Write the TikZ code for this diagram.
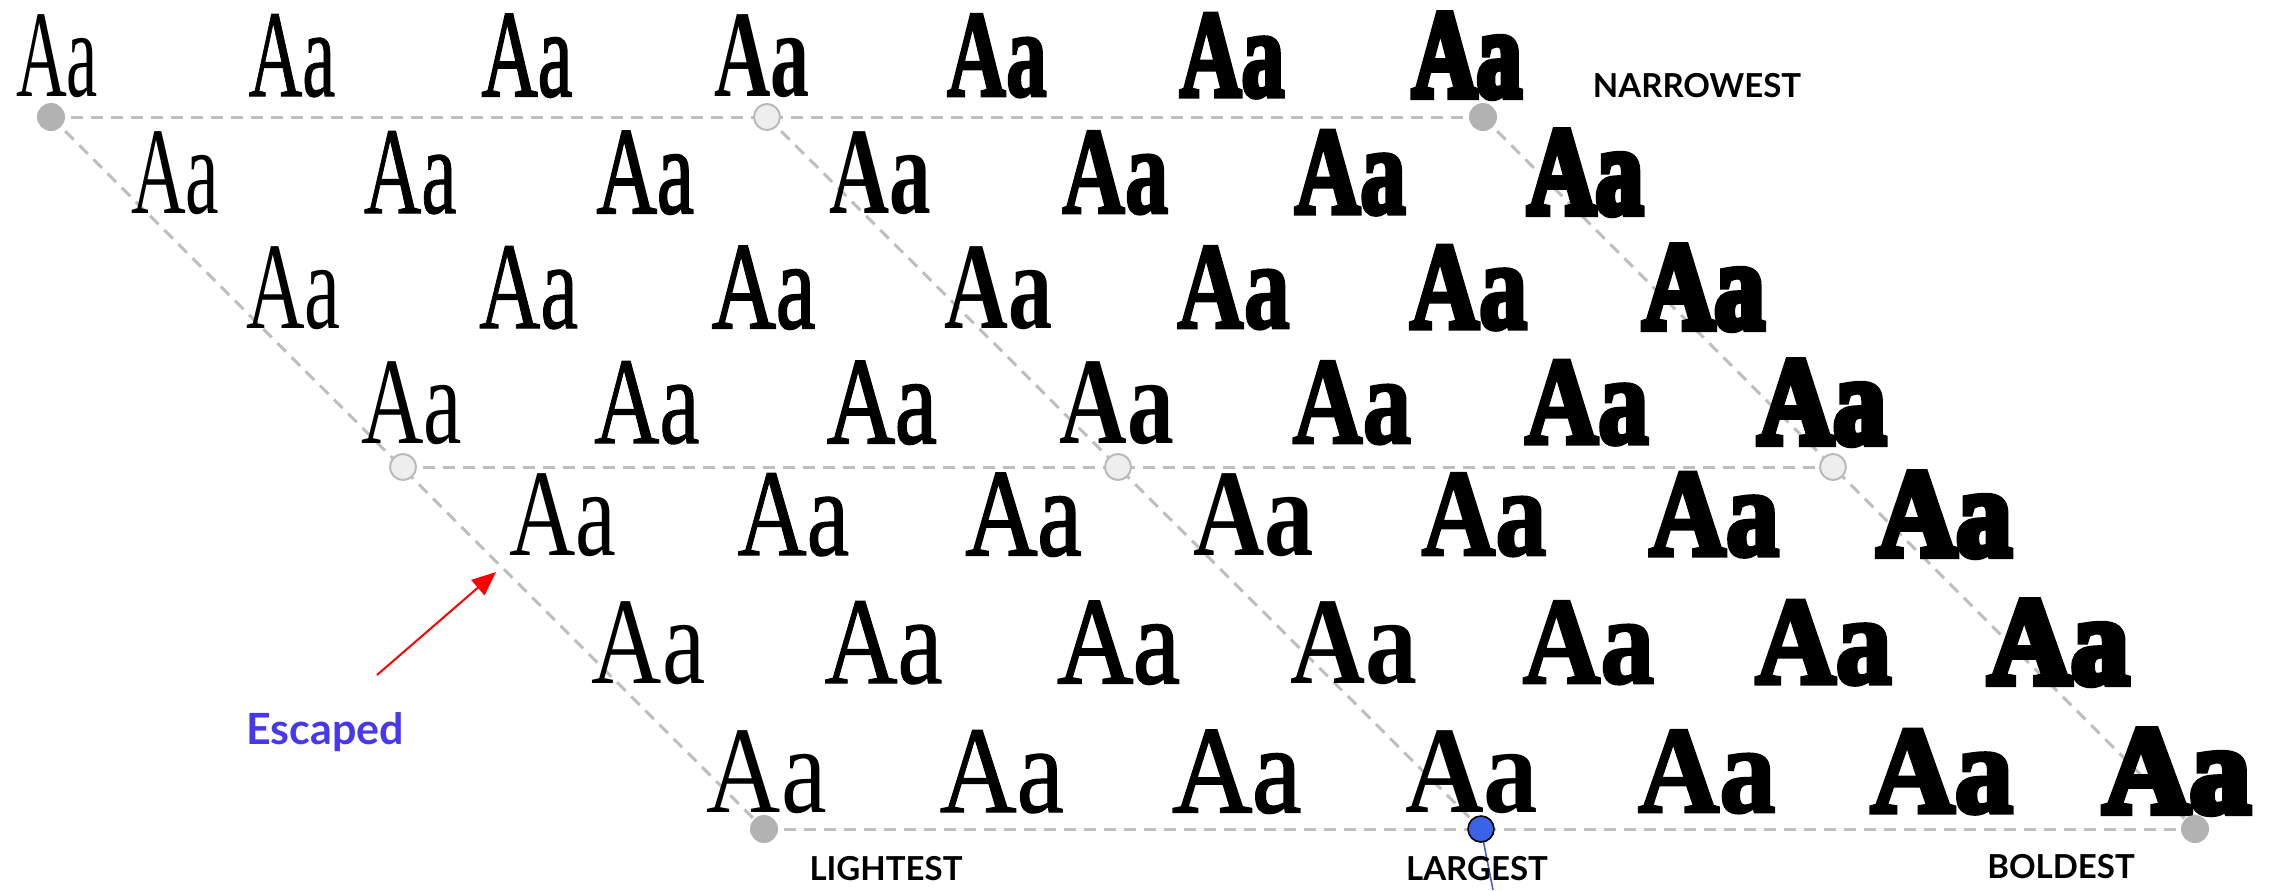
\documentclass[tikz,border=0pt]{standalone}
\usepackage{fontspec}
\usepackage{graphicx}
\usetikzlibrary{arrows.meta}
\setmainfont{Liberation Serif}
\newfontfamily\lblfont{Lato}
% weight steps, light to black
\newfontfamily\wtA{Liberation Serif}
\newfontfamily\wtB{Liberation Serif}[FakeBold=0.8]
\newfontfamily\wtC{Liberation Serif}[FakeBold=1.8]
\newfontfamily\wtD{Liberation Serif Bold}
\newfontfamily\wtE{Liberation Serif Bold}[FakeBold=2.2]
\newfontfamily\wtF{Liberation Serif Bold}[FakeBold=4.2]
\newfontfamily\wtG{Liberation Serif Bold}[FakeBold=6.5]
\newcommand{\wtfont}[1]{\ifcase#1\wtA\or\wtB\or\wtC\or\wtD\or\wtE\or\wtF\or\wtG\fi}
\definecolor{dashgray}{RGB}{190,190,190}
\definecolor{dotgray}{RGB}{178,178,178}
\definecolor{ringgray}{RGB}{186,186,186}
\definecolor{ringfill}{RGB}{238,238,238}
\definecolor{markblue}{RGB}{58,100,232}
\definecolor{escblue}{RGB}{70,55,240}

\begin{document}
\begin{tikzpicture}[x=0.5pt,y=-0.5pt,
  glyph/.style={anchor=base,inner sep=0pt,font=\fontsize{62}{62}\selectfont},
  axisline/.style={draw=dashgray,line width=1.5pt,dash pattern=on 6pt off 4pt},
  cornerdot/.style={circle,fill=dotgray,minimum size=14pt,inner sep=0pt},
  middot/.style={circle,fill=ringfill,draw=ringgray,line width=1pt,minimum size=13pt,inner sep=0pt},
  tag/.style={anchor=base,inner sep=0pt,font=\lblfont\bfseries\fontsize{16.5}{16.5}\selectfont}]
\useasboundingbox (0,0) rectangle (2272,890);

% corners of the design space
\coordinate (c-0-0) at (51,117);
\coordinate (c-0-3) at (767,117);
\coordinate (c-0-6) at (1483,117);
\coordinate (c-3-0) at (403,467);
\coordinate (c-3-3) at (1118,467);
\coordinate (c-3-6) at (1833,467);
\coordinate (c-6-0) at (764,829);
\coordinate (c-6-3) at (1481,829);
\coordinate (c-6-6) at (2195,829);
\coordinate (bluefoot) at (1493,890);

\draw[axisline] (c-0-0) -- (c-0-6);
\draw[axisline] (c-3-0) -- (c-3-6);
\draw[axisline] (c-6-0) -- (c-6-6);
\draw[axisline] (c-0-0) -- (c-6-0);
\draw[axisline] (c-0-3) -- (c-6-3);
\draw[axisline] (c-0-6) -- (c-6-6);
\draw[markblue,line width=0.8pt] (c-6-3) -- (bluefoot);

% grid of samples: rows get wider, columns get heavier
\foreach \r in {0,...,6}
  \foreach \c in {0,...,6} {
    \pgfmathsetmacro\cx{57+118.3*\r+235*\c+(\r==4)*(33-4.8*\c)}
    \pgfmathsetmacro\by{{96,213,328,443,555,683,812}[\r]}
    \pgfmathsetmacro\w{41+3.15*\r+2.25*\c}
    \node[glyph] (g-\r-\c) at (\cx,\by) {\wtfont{\c}\resizebox{\w pt}{\height}{Aa}};
  }

\node[cornerdot] (d-0-0) at (c-0-0) {};
\node[middot] (d-0-3) at (c-0-3) {};
\node[cornerdot] (d-0-6) at (c-0-6) {};
\node[middot] (d-3-0) at (c-3-0) {};
\node[middot] (d-3-3) at (c-3-3) {};
\node[middot] (d-3-6) at (c-3-6) {};
\node[cornerdot] (d-6-0) at (c-6-0) {};
\node[circle,fill=markblue,draw=black,line width=0.8pt,minimum size=13pt,inner sep=0pt] (d-6-3) at (c-6-3) {};
\node[cornerdot] (d-6-6) at (c-6-6) {};

\node[tag] (narrowest) at (1697,97) {NARROWEST};
\node[tag] (lightest) at (886,880) {LIGHTEST};
\node[tag] (largest) at (1477,880) {LARGEST};
\node[tag] (boldest) at (2061,878) {BOLDEST};

% the sample that left its line
\node[tag,text=escblue,font=\lblfont\bfseries\fontsize{21.5}{21.5}\selectfont] (escaped) at (325,744) {Escaped};
\coordinate (esctail) at (377,675);
\coordinate (escpt) at (496,572);
\draw[-{Triangle[length=12pt,width=10pt]},red,line width=1pt] (esctail) -- (escpt);
\end{tikzpicture}
\end{document}
